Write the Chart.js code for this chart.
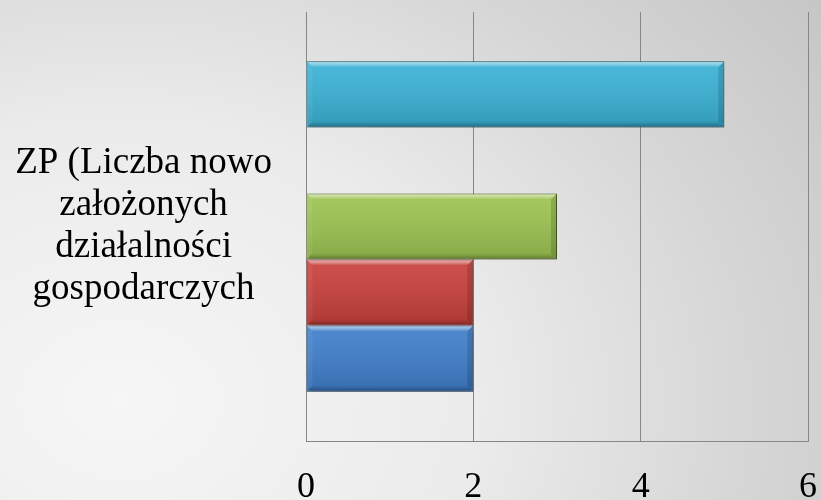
<!DOCTYPE html>
<html>
<head>
<meta charset="utf-8">
<script src="https://cdn.jsdelivr.net/npm/chart.js@4"></script>
<style>
  html, body { margin: 0; padding: 0; }
  body {
    width: 821px; height: 500px; overflow: hidden;
    background: radial-gradient(ellipse 900px 700px at 120px 400px, #f6f6f6 0%, #ebebeb 40%, #d6d6d6 70%, #c4c4c4 100%);
  }
  #wrap { position: relative; width: 821px; height: 500px; }
</style>
</head>
<body>
<div id="wrap"><canvas id="chart"></canvas></div>
<script>
// data - listed top to bottom as the bars appear
const categories = [['ZP (Liczba nowo', 'założonych', 'działalności', 'gospodarczych']];
const seriesNames = ['Seria 5', 'Seria 4', 'Seria 3', 'Seria 2', 'Seria 1'];
const seriesValues = [[5], [0], [3], [2], [2]];
const seriesColors = ['#3ab2d6', '#8064a2', '#9dc451', '#c9403c', '#3f7fcb'];
const seriesBorders = ['#1d5a6c', '#403152', '#4f6627', '#6b1f1d', '#1e3f66'];
const xTicks = [0, 2, 4, 6];

// bevel look like the office bars (5px edges)
const B = 5;
const bevelPlugin = {
    id: 'bevel',
    beforeDatasetDraw(chart, args) {
        const ctx = chart.ctx;
        ctx.save();
        ctx.shadowColor = 'rgba(0,0,0,0.3)';
        ctx.shadowBlur = 6;
        ctx.shadowOffsetX = 2;
        ctx.shadowOffsetY = 3;
    },
    afterDatasetDraw(chart, args) {
        const ctx = chart.ctx;
        ctx.restore();
        args.meta.data.forEach(function (bar) {
            const left = Math.min(bar.base, bar.x);
            const right = Math.max(bar.base, bar.x);
            const w = right - left;
            if (w < 2) return;
            const top = bar.y - bar.height / 2;
            const bottom = bar.y + bar.height / 2;
            ctx.save();
            let g = ctx.createLinearGradient(0, top, 0, bottom);
            g.addColorStop(0, 'rgba(255,255,255,0.08)');
            g.addColorStop(1, 'rgba(0,0,0,0.14)');
            ctx.fillStyle = g;
            ctx.fillRect(left + 1, top + 1, w - 2, bar.height - 2);
            // top highlight
            g = ctx.createLinearGradient(0, top, 0, top + B + 1);
            g.addColorStop(0, 'rgba(255,255,255,0.6)');
            g.addColorStop(0.5, 'rgba(255,255,255,0.35)');
            g.addColorStop(1, 'rgba(255,255,255,0)');
            ctx.fillStyle = g;
            ctx.beginPath();
            ctx.moveTo(left + 1, top + 1);
            ctx.lineTo(right - 1, top + 1);
            ctx.lineTo(right - B - 1, top + B + 1);
            ctx.lineTo(left + B + 1, top + B + 1);
            ctx.closePath();
            ctx.fill();
            // bottom shade
            g = ctx.createLinearGradient(0, bottom - B, 0, bottom);
            g.addColorStop(0, 'rgba(0,0,0,0.05)');
            g.addColorStop(1, 'rgba(0,0,0,0.3)');
            ctx.fillStyle = g;
            ctx.beginPath();
            ctx.moveTo(left + B + 1, bottom - B - 1);
            ctx.lineTo(right - B - 1, bottom - B - 1);
            ctx.lineTo(right - 1, bottom - 1);
            ctx.lineTo(left + 1, bottom - 1);
            ctx.closePath();
            ctx.fill();
            // right side shade
            ctx.fillStyle = 'rgba(0,0,0,0.14)';
            ctx.beginPath();
            ctx.moveTo(right - 1, top + 1);
            ctx.lineTo(right - 1, bottom - 1);
            ctx.lineTo(right - B - 1, bottom - B - 1);
            ctx.lineTo(right - B - 1, top + B + 1);
            ctx.closePath();
            ctx.fill();
            // left side light
            ctx.fillStyle = 'rgba(255,255,255,0.06)';
            ctx.beginPath();
            ctx.moveTo(left + 1, top + 1);
            ctx.lineTo(left + B + 1, top + B + 1);
            ctx.lineTo(left + B + 1, bottom - B - 1);
            ctx.lineTo(left + 1, bottom - 1);
            ctx.closePath();
            ctx.fill();
            ctx.restore();
        });
    }
};

const datasets = seriesNames.map(function (name, i) {
    return {
        label: name,
        data: seriesValues[i],
        backgroundColor: seriesColors[i],
        borderColor: seriesBorders[i],
        borderWidth: 1,
        categoryPercentage: 0.77,
        barPercentage: 1.0
    };
});

const ctx = document.getElementById('chart').getContext('2d');
new Chart(ctx, {
    type: 'bar',
    data: { labels: categories, datasets: datasets },
    options: {
        indexAxis: 'y',
        responsive: true,
        maintainAspectRatio: false,
        animation: false,
        layout: { padding: { top: 12, right: 13, bottom: 0, left: 0 } },
        plugins: {
            legend: { display: false },
            tooltip: { enabled: false }
        },
        scales: {
            x: {
                min: 0,
                max: 6,
                afterBuildTicks: function (scale) {
                    scale.ticks = xTicks.map(v => ({ value: v }));
                },
                afterFit: function (scale) {
                    scale.height = 59;
                    scale.paddingLeft = 0;
                    scale.paddingRight = 0;
                },
                grid: { color: '#868686', lineWidth: 1, drawTicks: false },
                border: { display: true, color: '#868686', width: 1 },
                ticks: {
                    color: '#000',
                    padding: 31,
                    font: { family: '"Liberation Serif", "Times New Roman", serif', size: 36, lineHeight: 0.85 }
                }
            },
            y: {
                grid: { display: false, drawTicks: false },
                border: { display: false },
                afterFit: function (scale) {
                    scale.width = 306;
                    scale.paddingTop = 0;
                    scale.paddingBottom = 0;
                },
                ticks: {
                    color: '#000',
                    padding: 34,
                    crossAlign: 'center',
                    font: { family: '"Liberation Serif", "Times New Roman", serif', size: 37, lineHeight: 1.135 }
                }
            }
        }
    },
    plugins: [bevelPlugin]
});
</script>
</body>
</html>
